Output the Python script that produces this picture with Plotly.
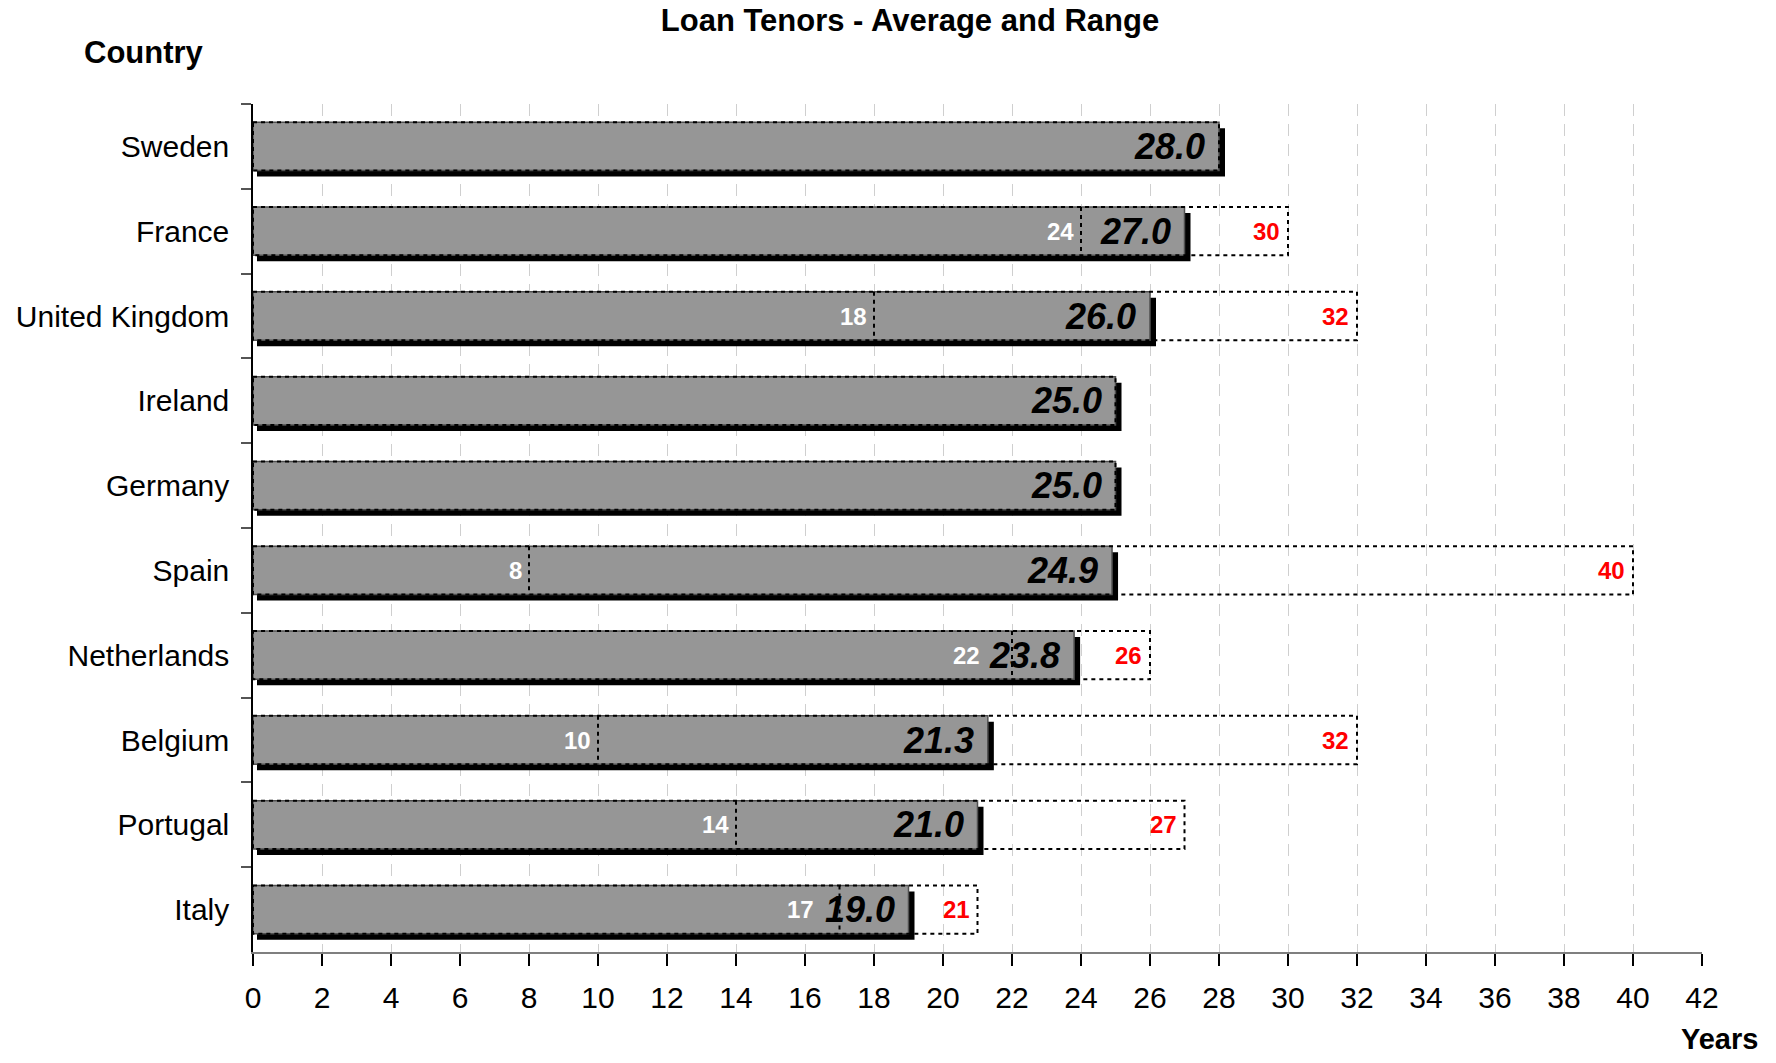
import plotly.graph_objects as go

# Loan tenor data (years), listed top to bottom
countries = ["Sweden", "France", "United Kingdom", "Ireland", "Germany",
             "Spain", "Netherlands", "Belgium", "Portugal", "Italy"]
averages = [28.0, 27.0, 26.0, 25.0, 25.0, 24.9, 23.8, 21.3, 21.0, 19.0]
range_min = [None, 24, 18, None, None, 8, 22, 10, 14, 17]
range_max = [None, 30, 32, None, None, 40, 26, 32, 27, 21]
x_ticks = list(range(0, 43, 2))

FONT = "Liberation Sans, Arial, sans-serif"
W, H = 1776, 1063
ML, MR, MT, MB = 253, 74, 104, 111
X_MAX = 42
px_per_x = (W - ML - MR) / X_MAX
px_per_cat = (H - MT - MB) / len(countries)

BAR_W = 0.57
SHADOW_X0, SHADOW_DX, SHADOW_DY = 4, 6, 6   # drop shadow offsets in pixels

fig = go.Figure()

# drop shadow behind each average bar
fig.add_trace(go.Bar(
    y=countries,
    x=[a + (SHADOW_DX - SHADOW_X0) / px_per_x for a in averages],
    base=SHADOW_X0 / px_per_x,
    orientation="h", width=BAR_W, offset=-BAR_W / 2 + SHADOW_DY / px_per_cat,
    marker=dict(color="black", line=dict(width=0)),
    hoverinfo="skip", showlegend=False,
))

# average tenor bars
fig.add_trace(go.Bar(
    y=countries, x=averages, orientation="h",
    width=BAR_W, offset=-BAR_W / 2,
    marker=dict(color="#969696", line=dict(color="#505050", width=1.5)),
    showlegend=False,
))

shapes = []
annotations = []
dot = dict(color="black", width=2, dash="4px,4px")
AVG_SIZE = 36
avg_font = dict(family=FONT, size=AVG_SIZE, color="black", weight="bold", style="italic")
avg_shift = -12
avg_label_w = AVG_SIZE * (0.556 * 3 + 0.278)

for i, (name, avg, lo, hi) in enumerate(zip(countries, averages, range_min, range_max)):
    end = hi if hi is not None else avg
    shapes.append(dict(type="rect", xref="x", yref="y", x0=0, x1=end,
                       y0=i - BAR_W / 2, y1=i + BAR_W / 2,
                       line=dot, fillcolor="rgba(0,0,0,0)", layer="above"))
    annotations.append(dict(x=avg, y=name, xref="x", yref="y", text=f"{avg:.1f}",
                            showarrow=False, xanchor="right", yanchor="middle",
                            xshift=avg_shift, font=avg_font))
    if lo is not None:
        shapes.append(dict(type="line", xref="x", yref="y", x0=lo, x1=lo,
                           y0=i - BAR_W / 2, y1=i + BAR_W / 2, line=dot, layer="above"))
        # keep the minimum label clear of the average label
        avg_left = (avg - lo) * px_per_x + avg_shift - avg_label_w
        shift = min(-5, avg_left - 10)
        annotations.append(dict(x=lo, y=name, xref="x", yref="y", text=f"{lo:g}",
                                showarrow=False, xanchor="right", yanchor="middle",
                                xshift=shift,
                                font=dict(family=FONT, size=24, color="white", weight="bold")))
    if hi is not None:
        annotations.append(dict(x=hi, y=name, xref="x", yref="y", text=f"{hi:g}",
                                showarrow=False, xanchor="right", yanchor="middle",
                                xshift=-6,
                                font=dict(family=FONT, size=24, color="#ff0000", weight="bold")))

plot_h = H - MT - MB
plot_w = W - ML - MR
annotations.append(dict(text="<b>Country</b>", xref="paper", yref="paper",
                        x=(144 - ML) / plot_w, y=1 + (MT - 53) / plot_h,
                        showarrow=False, xanchor="center", yanchor="middle",
                        font=dict(family=FONT, size=31, color="black")))
annotations.append(dict(text="<b>Years</b>", xref="paper", yref="paper",
                        x=(1719 - ML) / plot_w, y=-(1039 - (H - MB)) / plot_h,
                        showarrow=False, xanchor="center", yanchor="middle",
                        font=dict(family=FONT, size=29, color="black")))

fig.update_layout(
    width=W, height=H,
    margin=dict(l=ML, r=MR, t=MT, b=MB, pad=0),
    paper_bgcolor="white", plot_bgcolor="white",
    barmode="overlay",
    title=dict(text="<b>Loan Tenors - Average and Range</b>",
               xref="container", yref="container",
               x=910 / W, y=1 - 20 / H, xanchor="center", yanchor="middle",
               font=dict(family=FONT, size=31, color="black")),
    xaxis=dict(range=[0, X_MAX], tickvals=x_ticks, showgrid=True,
               gridcolor="#cfcfcf", gridwidth=1.2, griddash="12px,8px",
               showline=True, linecolor="#7f7f7f", linewidth=2,
               ticks="outside", ticklen=12, tickwidth=1.5, tickcolor="black",
               ticklabelstandoff=6, zeroline=False,
               tickfont=dict(family=FONT, size=30, color="black")),
    yaxis=dict(type="category", categoryorder="array", categoryarray=countries,
               range=[len(countries) - 0.5, -0.5], tickson="boundaries",
               ticks="outside", ticklen=10, tickwidth=1.5, tickcolor="#555555",
               showline=True, linecolor="black", linewidth=1.5, showgrid=False,
               ticklabelstandoff=16, zeroline=False,
               tickfont=dict(family=FONT, size=30, color="black")),
    shapes=shapes, annotations=annotations,
)

fig.write_html("out.html")
